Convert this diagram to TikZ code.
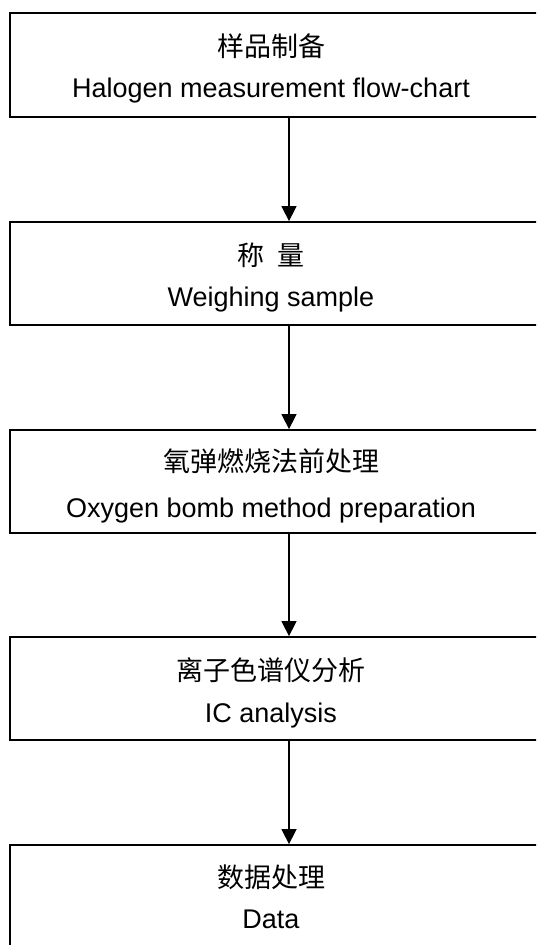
\documentclass[tikz,border=0pt]{standalone}
\usepackage{fontspec}
\setmainfont{Liberation Sans}
\newfontfamily\cjk{Noto Sans CJK SC}
\usetikzlibrary{arrows.meta}
\begin{document}
\begin{tikzpicture}[x=1pt,y=-1pt,
  stepbox/.style={draw,line width=1.8pt,minimum width=535pt,inner sep=0pt},
  cjklabel/.style={inner sep=0pt,anchor=center,font=\cjk\fontsize{27}{30}\selectfont},
  enlabel/.style={inner sep=0pt,anchor=base,font=\fontsize{27}{30}\selectfont},
  flow/.style={line width=1.5pt,-{Triangle[width=15pt,length=15pt]}}]
\useasboundingbox (0,0) rectangle (536,945);
\clip (0,0) rectangle (536,945);
\fill[white] (0,0) rectangle (536,945);
\node[stepbox,minimum height=104pt] (b1) at (277.5,65) {};
\node[stepbox,minimum height=103pt] (b2) at (277.5,273.5) {};
\node[stepbox,minimum height=103pt] (b3) at (277.5,481.5) {};
\node[stepbox,minimum height=103pt] (b4) at (277.5,688.5) {};
\node[stepbox,minimum height=110pt] (b5) at (277.5,900) {};
\node[cjklabel] (c1) at (271,46) {样品制备};
\node[enlabel] (e1) at (271,97) {Halogen measurement flow-chart};
\node[cjklabel] (c2) at (271,255) {称\hspace{0.45em}量};
\node[enlabel] (e2) at (271,306) {Weighing sample};
\node[cjklabel] (c3) at (271,461) {氧弹燃烧法前处理};
\node[enlabel] (e3) at (271,517) {Oxygen bomb method preparation};
\node[cjklabel] (c4) at (271,670) {离子色谱仪分析};
\node[enlabel] (e4) at (271,722) {IC analysis};
\node[cjklabel] (c5) at (271,877) {数据处理};
\node[enlabel] (e5) at (271,928) {Data};
\draw[flow] (b1.south -| 289,0) -- (b2.north -| 289,0);
\draw[flow] (b2.south -| 289,0) -- (b3.north -| 289,0);
\draw[flow] (b3.south -| 289,0) -- (b4.north -| 289,0);
\draw[flow] (b4.south -| 289,0) -- (b5.north -| 289,0);
\end{tikzpicture}
\end{document}
